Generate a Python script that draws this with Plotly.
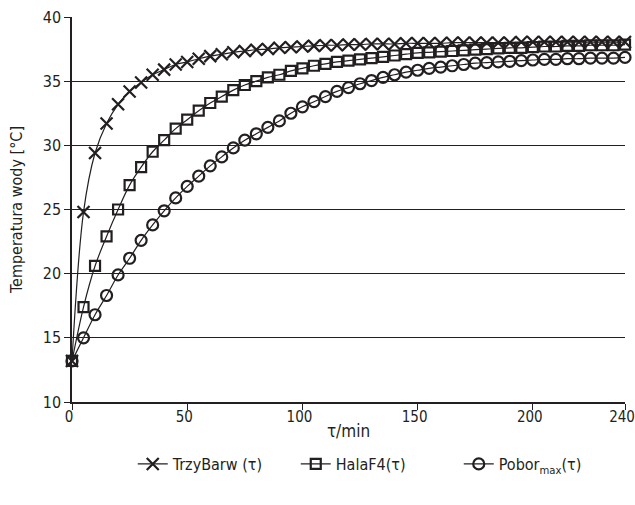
import plotly.graph_objects as go

t_min = list(range(0, 245, 5))

trzybarw = [13.2, 24.8, 29.4, 31.7, 33.2, 34.2, 34.9, 35.5, 35.9, 36.3,
            36.5, 36.75, 36.95, 37.1, 37.25, 37.35, 37.45, 37.5, 37.6, 37.65,
            37.7, 37.75, 37.8, 37.8, 37.85, 37.85, 37.9, 37.9, 37.9, 37.95,
            37.95, 37.95, 37.95, 38.0, 38.0, 38.0, 38.0, 38.0, 38.0, 38.05,
            38.05, 38.05, 38.05, 38.05, 38.05, 38.05, 38.05, 38.05, 38.05]

halaf4 = [13.2, 17.4, 20.6, 22.9, 25.0, 26.9, 28.3, 29.5, 30.4, 31.3,
          32.0, 32.7, 33.3, 33.8, 34.3, 34.7, 35.0, 35.3, 35.5, 35.8,
          36.0, 36.2, 36.35, 36.5, 36.6, 36.7, 36.8, 36.9, 37.0, 37.1,
          37.2, 37.25, 37.3, 37.35, 37.4, 37.45, 37.5, 37.55, 37.6, 37.6,
          37.65, 37.7, 37.7, 37.75, 37.75, 37.8, 37.8, 37.8, 37.85]

pobor_max = [13.2, 15.0, 16.8, 18.3, 19.9, 21.2, 22.6, 23.8, 24.9, 25.9,
             26.8, 27.6, 28.4, 29.1, 29.8, 30.4, 30.9, 31.4, 31.9, 32.5,
             33.0, 33.4, 33.8, 34.2, 34.5, 34.8, 35.05, 35.3, 35.5, 35.7,
             35.85, 36.0, 36.1, 36.2, 36.3, 36.4, 36.45, 36.5, 36.55, 36.6,
             36.65, 36.7, 36.7, 36.75, 36.75, 36.8, 36.8, 36.8, 36.85]

series_names = ["TrzyBarw (τ)", "HalaF4(τ)", "Pobor<sub>max</sub>(τ)"]
x_ticks = [0, 50, 100, 150, 200, 240]
y_ticks = [10, 15, 20, 25, 30, 35, 40]

INK = "#231f20"
FONT = "Liberation Sans Narrow, DejaVu Sans Condensed, Roboto, sans-serif"

fig = go.Figure()
specs = [
    (trzybarw, "x-thin-open", 12),
    (halaf4, "square-open", 10),
    (pobor_max, "circle-open", 11),
]
for (vals, sym, sz), name in zip(specs, series_names):
    fig.add_trace(go.Scatter(
        x=t_min, y=vals, name=name, mode="lines+markers",
        line=dict(color=INK, width=1.2, shape="spline"),
        marker=dict(symbol=sym, size=sz, color=INK,
                    line=dict(color=INK, width=2.2)),
        cliponaxis=False,
    ))

fig.update_layout(
    width=635, height=505,
    margin=dict(l=72, r=10, t=17, b=103, autoexpand=False),
    paper_bgcolor="white", plot_bgcolor="white",
    font=dict(family=FONT, size=16, color=INK),
    showlegend=True,
    legend=dict(orientation="h", x=0.552, xanchor="center", y=-0.117, yanchor="top",
                font=dict(size=16), itemwidth=30, entrywidth=118, entrywidthmode="pixels"),
    xaxis=dict(
        range=[0, 240], tickvals=x_ticks, ticktext=[str(v) for v in x_ticks],
        showgrid=False, zeroline=False, showline=True, linecolor=INK, linewidth=1.5,
        ticks="outside", ticklen=6, tickwidth=1.2, tickcolor=INK, automargin=False,
        ticklabelstandoff=-6, ticklabeloverflow="allow", ticklabelshift=-3,
        tickfont=dict(size=15),
        title=dict(text="τ/min", standoff=0, font=dict(size=17)),
    ),
    yaxis=dict(
        range=[10, 40], tickvals=y_ticks,
        showgrid=True, gridcolor=INK, gridwidth=1.3, zeroline=False,
        showline=True, linecolor=INK, linewidth=1.5, automargin=False,
        ticks="outside", ticklen=6, tickwidth=1.2, tickcolor=INK,
        ticklabeloverflow="allow",
        title=dict(text="Temperatura wody [°C]", standoff=16, font=dict(size=16)),
    ),
)

fig.write_html(
    "out.html",
    config={"displayModeBar": False},
    post_script="document.body.style.margin='0';document.body.style.overflow='hidden';",
)
